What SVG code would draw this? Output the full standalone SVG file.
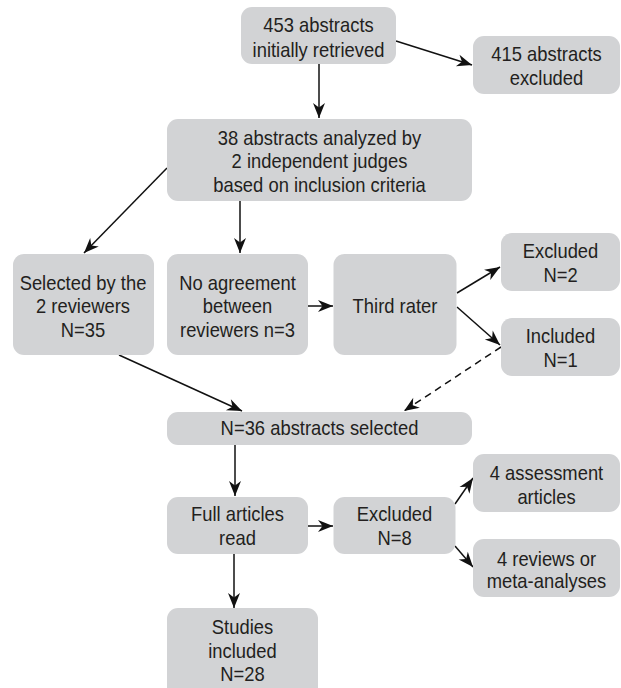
<svg xmlns="http://www.w3.org/2000/svg" width="621" height="688" viewBox="0 0 621 688">
<style>
.box{fill:#d2d3d5}
text{font-family:"Liberation Sans",Arial,sans-serif;font-size:20px;fill:#231f20;text-anchor:middle}
.c{stroke:#111;stroke-width:1.5;fill:none;marker-end:url(#ah)}
.d{stroke-dasharray:7 5}
</style>
<defs>
<marker id="ah" markerUnits="userSpaceOnUse" markerWidth="20" markerHeight="16" viewBox="-16 -8 17 16" refX="0" refY="0" orient="auto">
<path d="M0,0 L-15,-6 L-10.5,0 L-15,6 Z" fill="#111"/>
</marker>
</defs>
<rect width="621" height="688" fill="#fff"/>
<g id="connectors">
<line class="c" x1="319" y1="64" x2="319" y2="118"/>
<line class="c" x1="396" y1="41" x2="472" y2="65"/>
<line class="c" x1="167" y1="168" x2="84" y2="253"/>
<line class="c" x1="240" y1="201" x2="240" y2="253"/>
<line class="c" x1="308" y1="306" x2="333" y2="306"/>
<line class="c" x1="457" y1="293" x2="500" y2="267"/>
<line class="c" x1="457" y1="307" x2="500" y2="345"/>
<line class="c" x1="119" y1="355" x2="242" y2="411"/>
<line class="c d" x1="501" y1="347" x2="404" y2="411"/>
<line class="c" x1="235" y1="445" x2="235" y2="496"/>
<line class="c" x1="308" y1="526" x2="333" y2="526"/>
<line class="c" x1="455" y1="504" x2="473" y2="478"/>
<line class="c" x1="455" y1="546" x2="473" y2="567"/>
<line class="c" x1="234" y1="554" x2="234" y2="608"/>
</g>
<g id="n453"><rect class="box" x="241" y="7" width="155" height="57" rx="11"/><g transform="translate(318.5 0) scale(0.92 1)"><text x="0" y="32.5">453 abstracts</text><text x="0" y="57">initially retrieved</text></g></g>
<g id="n415"><rect class="box" x="473" y="36" width="147" height="58" rx="11"/><g transform="translate(546.5 0) scale(0.92 1)"><text x="0" y="61.5">415 abstracts</text><text x="0" y="85.5">excluded</text></g></g>
<g id="n38"><rect class="box" x="167" y="119" width="305" height="82" rx="11"/><g transform="translate(319.5 0) scale(0.92 1)"><text x="0" y="145">38 abstracts analyzed by</text><text x="0" y="168.5">2 independent judges</text><text x="0" y="192">based on inclusion criteria</text></g></g>
<g id="nsel"><rect class="box" x="13" y="254" width="141" height="101" rx="11"/><g transform="translate(83 0) scale(0.92 1)"><text x="0" y="290">Selected by the</text><text x="0" y="313.5">2 reviewers</text><text x="0" y="337">N=35</text></g></g>
<g id="nnoag"><rect class="box" x="167" y="254" width="141" height="101" rx="11"/><g transform="translate(237.5 0) scale(0.92 1)"><text x="0" y="290">No agreement</text><text x="0" y="313.5">between</text><text x="0" y="337">reviewers n=3</text></g></g>
<g id="nthird"><rect class="box" x="333.5" y="254" width="123" height="101" rx="11"/><g transform="translate(395 0) scale(0.92 1)"><text x="0" y="313.5">Third rater</text></g></g>
<g id="nexc2"><rect class="box" x="501" y="233" width="119" height="58" rx="11"/><g transform="translate(560.5 0) scale(0.92 1)"><text x="0" y="258.5">Excluded</text><text x="0" y="282.5">N=2</text></g></g>
<g id="ninc1"><rect class="box" x="501" y="318" width="119" height="58" rx="11"/><g transform="translate(560.5 0) scale(0.92 1)"><text x="0" y="343.5">Included</text><text x="0" y="367.5">N=1</text></g></g>
<g id="n36"><rect class="box" x="167" y="412" width="305" height="33" rx="11"/><g transform="translate(319.5 0) scale(0.92 1)"><text x="0" y="435.5">N=36 abstracts selected</text></g></g>
<g id="nfull"><rect class="box" x="167" y="497" width="141" height="57" rx="11"/><g transform="translate(237.5 0) scale(0.92 1)"><text x="0" y="521.5">Full articles</text><text x="0" y="545.5">read</text></g></g>
<g id="nexc8"><rect class="box" x="333.5" y="497" width="122" height="57" rx="11"/><g transform="translate(394.5 0) scale(0.92 1)"><text x="0" y="521.5">Excluded</text><text x="0" y="545.5">N=8</text></g></g>
<g id="nassess"><rect class="box" x="473" y="454" width="147" height="58" rx="11"/><g transform="translate(546.5 0) scale(0.92 1)"><text x="0" y="480.5">4 assessment</text><text x="0" y="504">articles</text></g></g>
<g id="nrev"><rect class="box" x="473" y="539" width="147" height="58" rx="11"/><g transform="translate(546.5 0) scale(0.92 1)"><text x="0" y="566">4 reviews or</text><text x="0" y="588.5">meta-analyses</text></g></g>
<g id="nstudies"><rect class="box" x="167" y="608" width="151" height="100" rx="11"/><g transform="translate(242.5 0) scale(0.92 1)"><text x="0" y="634.5">Studies</text><text x="0" y="658">included</text><text x="0" y="681.5">N=28</text></g></g>
</svg>
